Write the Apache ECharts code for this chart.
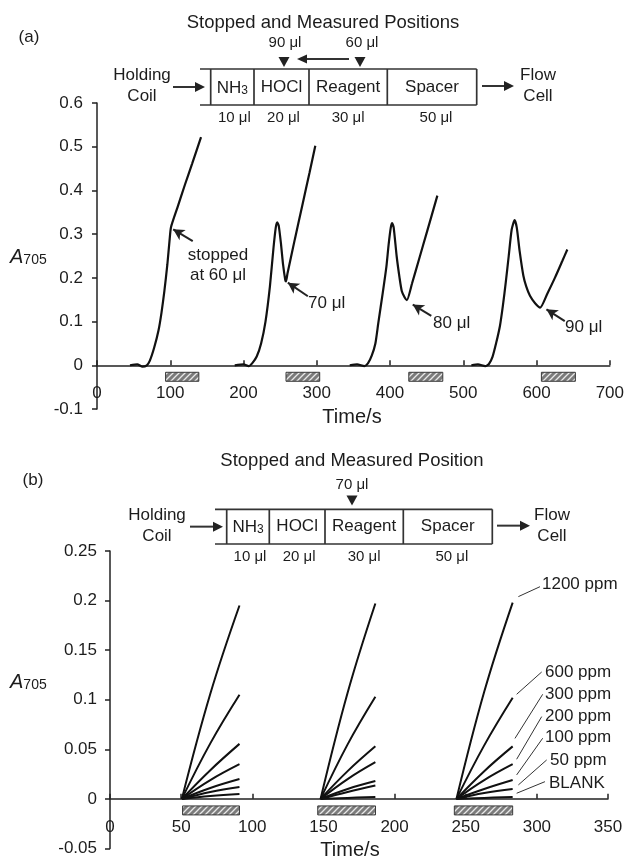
<!DOCTYPE html>
<html lang="en">
<head>
<meta charset="UTF-8">
<title>Stopped-flow traces</title>
<script src="https://cdn.jsdelivr.net/npm/echarts@6/dist/echarts.min.js"></script>
<style>
  html, body { margin: 0; padding: 0; background: #fff; }
  #main { width: 627px; height: 857px; }
</style>
</head>
<body>
<div id="main"></div>
<script type="text/javascript">
// ---- panel (a): absorbance traces, stopped at 60, 70, 80, 90 ul ----
var scan60 = [[45,0],[55,0.002],[62,-0.003],[68,0],[72,0.01],[78,0.04],[84,0.08],[88,0.12],[92,0.17],[96,0.23],[99,0.285],[101,0.316],[110,0.362],[120,0.413],[130,0.462],[142,0.522]];
var scan70 = [[188,0],[200,0.002],[207,-0.002],[212,0.005],[218,0.02],[224,0.05],[230,0.1],[236,0.18],[241,0.27],[244,0.315],[246,0.327],[248,0.32],[251,0.28],[254,0.23],[257,0.195],[258,0.192],[260,0.21],[270,0.288],[280,0.364],[290,0.44],[298,0.502]];
var scan80 = [[345,0],[355,0.002],[365,-0.002],[370,0.005],[375,0.022],[380,0.05],[384,0.097],[390,0.165],[395,0.225],[398,0.275],[401,0.315],[403,0.325],[405,0.315],[409,0.25],[413,0.2],[416,0.17],[420,0.155],[423,0.149],[430,0.187],[440,0.245],[450,0.303],[464.6,0.388]];
var scan90 = [[511,0],[520,0.002],[530,-0.002],[535,0.003],[540,0.02],[545,0.052],[550,0.09],[554,0.136],[558,0.19],[562,0.25],[566,0.31],[570,0.332],[573,0.315],[577,0.26],[582,0.205],[586,0.18],[591,0.159],[598,0.142],[605,0.132],[615,0.165],[625,0.2],[635,0.238],[642,0.265]];
var measureA = [[93.6,139],[258,304],[425.6,472],[606.6,653]];

// ---- panel (b): three repeat runs per concentration ----
var ppmLabels = ['1200 ppm','600 ppm','300 ppm','200 ppm','100 ppm','50 ppm','BLANK'];
var runStart = [50.5, 148, 243.5];
var runMid = [70.5, 167, 263];
var runEnd = [91, 186.5, 283];
var midValues = [
  [0.106, 0.056, 0.029, 0.019, 0.011, 0.007, 0.003],
  [0.107, 0.055, 0.028, 0.020, 0.010, 0.007, 0.001],
  [0.108, 0.054, 0.028, 0.019, 0.010, 0.006, 0.001]
];
var endValues = [
  [0.195, 0.105, 0.0555, 0.035, 0.020, 0.012, 0.005],
  [0.197, 0.103, 0.053, 0.037, 0.018, 0.0135, 0.002],
  [0.198, 0.102, 0.053, 0.035, 0.019, 0.010, 0.002]
];
var measureB = [[51,91],[146,186.6],[242,283]];

var FONT = '"Liberation Sans", Arial, sans-serif';
var INK = '#1c1c1c';

var myChart = echarts.init(document.getElementById('main'));

// hatched fill for measuring windows
var pc = document.createElement('canvas');
pc.width = 6; pc.height = 6;
var cx = pc.getContext('2d');
cx.fillStyle = '#7b7b7b';
cx.fillRect(0, 0, 6, 6);
cx.strokeStyle = '#e8e8e8';
cx.lineWidth = 1.3;
cx.beginPath();
cx.moveTo(0, 6); cx.lineTo(6, 0);
cx.moveTo(-3, 3); cx.lineTo(3, -3);
cx.moveTo(3, 9); cx.lineTo(9, 3);
cx.stroke();

function hatchSeries(idx, data) {
  return {
    type: 'custom', xAxisIndex: idx, yAxisIndex: idx, silent: true, clip: false,
    data: data,
    renderItem: function (params, api) {
      var s = api.coord([api.value(0), 0]);
      var e = api.coord([api.value(1), 0]);
      return {
        type: 'rect',
        shape: { x: s[0], y: s[1] + 7, width: e[0] - s[0], height: 9 },
        style: { fill: { image: pc, repeat: 'repeat' }, stroke: '#3a3a3a', lineWidth: 1 }
      };
    }
  };
}

function txt(x, y, text, opt) {
  opt = opt || {};
  return {
    type: 'text', x: x, y: y, silent: true,
    style: {
      text: text, fill: INK, fontFamily: FONT, fontSize: opt.size || 17,
      fontStyle: opt.italic ? 'italic' : 'normal',
      align: opt.align || 'center', verticalAlign: 'middle', lineHeight: opt.lh || 20,
      rich: opt.rich
    }
  };
}
function seg(x1, y1, x2, y2, w) {
  return { type: 'line', silent: true, shape: { x1: x1, y1: y1, x2: x2, y2: y2 }, style: { stroke: '#333', lineWidth: w || 1.7 } };
}
function arrowRight(x1, x2, y) {
  return [seg(x1, y, x2 - 8, y, 2),
    { type: 'polygon', silent: true, shape: { points: [[x2, y], [x2 - 10, y - 5], [x2 - 10, y + 5]] }, style: { fill: '#222' } }];
}
function arrowLeft(x1, x2, y) {
  return [seg(x1, y, x2 + 8, y, 1.8),
    { type: 'polygon', silent: true, shape: { points: [[x2, y], [x2 + 10, y - 4.5], [x2 + 10, y + 4.5]] }, style: { fill: '#222' } }];
}
function marker(x, y) {
  return { type: 'polygon', silent: true, shape: { points: [[x - 5.5, y], [x + 5.5, y], [x, y + 10]] }, style: { fill: '#222' } };
}

var subRich = {
  s: { fontSize: 12, fontFamily: FONT, fill: INK, verticalAlign: 'bottom', lineHeight: 12 },
  n: { fontSize: 17, fontFamily: FONT, fill: INK, verticalAlign: 'bottom', lineHeight: 17 },
  a: { fontSize: 20, fontFamily: FONT, fill: INK, fontStyle: 'italic', verticalAlign: 'bottom', lineHeight: 20 },
  t: { fontSize: 14, fontFamily: FONT, fill: INK, verticalAlign: 'bottom', lineHeight: 14 }
};

function scheme(o) {
  var els = [];
  var mid = (o.top + o.bot) / 2;
  els.push(seg(o.start, o.top, o.end, o.top), seg(o.start, o.bot, o.end, o.bot));
  [o.wall, o.d1, o.d2, o.d3, o.end].forEach(function (x) { els.push(seg(x, o.top, x, o.bot)); });
  els.push(txt((o.wall + o.d1) / 2, mid + 1, '{n|NH}{s|3}', { rich: subRich }));
  els.push(txt((o.d1 + o.d2) / 2, mid, 'HOCl'));
  els.push(txt((o.d2 + o.d3) / 2, mid, 'Reagent'));
  els.push(txt((o.d3 + o.end) / 2, mid, 'Spacer'));
  var vy = o.bot + 13;
  els.push(txt((o.wall + o.d1) / 2 + 2, vy, '10 μl', { size: 15 }));
  els.push(txt((o.d1 + o.d2) / 2 + 2, vy, '20 μl', { size: 15 }));
  els.push(txt((o.d2 + o.d3) / 2, vy, '30 μl', { size: 15 }));
  els.push(txt((o.d3 + o.end) / 2 + 4, vy, '50 μl', { size: 15 }));
  els.push(txt(o.holdX, mid - 1, 'Holding\nCoil', { lh: 21 }));
  els = els.concat(arrowRight(o.inA, o.inB, mid));
  els = els.concat(arrowRight(o.outA, o.outB, mid - 1));
  els.push(txt(o.flowX, mid - 1, 'Flow\nCell', { lh: 21 }));
  return els;
}

var graphics = [];
// panel (a) scheme
graphics.push(txt(29, 37, '(a)'));
graphics.push(txt(323, 23, 'Stopped and Measured Positions', { size: 18.5 }));
graphics = graphics.concat(scheme({ start: 200, wall: 210.7, d1: 254, d2: 309, d3: 387.3, end: 476.7, top: 69, bot: 105,
  holdX: 142, inA: 173, inB: 205, outA: 482, outB: 514, flowX: 538 }));
graphics.push(txt(285, 43, '90 μl', { size: 15 }), txt(362, 43, '60 μl', { size: 15 }));
graphics.push(marker(284, 57), marker(360, 57));
graphics = graphics.concat(arrowLeft(349, 297, 59));
// panel (a) annotations
graphics.push(txt(218, 255, 'stopped'), txt(218, 275, 'at 60 μl'));
graphics.push(txt(308, 303, '70 μl', { align: 'left' }));
graphics.push(txt(433, 323, '80 μl', { align: 'left' }));
graphics.push(txt(565, 327, '90 μl', { align: 'left' }));
graphics.push(txt(352, 417, 'Time/s', { size: 20 }));
graphics.push(txt(10, 257, '{a|A}{t|705}', { align: 'left', rich: subRich }));

// panel (b) scheme
graphics.push(txt(33, 480, '(b)'));
graphics.push(txt(352, 461, 'Stopped and Measured Position', { size: 18.5 }));
graphics = graphics.concat(scheme({ start: 215, wall: 226.7, d1: 269.3, d2: 325, d3: 403.3, end: 492.3, top: 509.3, bot: 544,
  holdX: 157, inA: 190, inB: 223, outA: 497, outB: 530, flowX: 552 }));
graphics.push(txt(352, 485, '70 μl', { size: 15 }));
graphics.push(marker(352, 495.5));
// panel (b) labels
var labelPos = [[542, 584.5], [545, 672], [545, 694.5], [545, 716], [545, 737], [550, 760], [549, 783]];
ppmLabels.forEach(function (l, i) { graphics.push(txt(labelPos[i][0], labelPos[i][1], l, { align: 'left' })); });
graphics.push(txt(350, 850, 'Time/s', { size: 20 }));
graphics.push(txt(10, 682, '{a|A}{t|705}', { align: 'left', rich: subRich }));

// leader lines / arrows in data coordinates
var arrowsA = [[[130.7, 0.284], [104, 0.311]], [[287.8, 0.158], [260.5, 0.189]], [[456.3, 0.113], [431, 0.139]], [[638.5, 0.101], [613.5, 0.128]]];
var leadersB = [[[287, 0.204], [302.2, 0.214]], [[285.8, 0.1055], [303.4, 0.128]], [[284.6, 0.061], [304.1, 0.1055]],
  [[285.8, 0.040], [303.4, 0.083]], [[285.8, 0.0242], [304.1, 0.0612]], [[287, 0.0141], [306.9, 0.0393]], [[285.8, 0.0057], [305.7, 0.0174]]];

var series = [];
[scan60, scan70, scan80, scan90].forEach(function (d, i) {
  var s = {
    type: 'line', xAxisIndex: 0, yAxisIndex: 0, data: d, showSymbol: false, smooth: 0.2,
    lineStyle: { color: '#111', width: 2.2 }, silent: true
  };
  if (i === 0) {
    s.markLine = {
      silent: true, symbol: ['none', 'arrow'], symbolSize: [9, 11],
      lineStyle: { color: '#222', width: 2, type: 'solid' }, label: { show: false },
      data: arrowsA.map(function (a) { return [{ coord: a[0] }, { coord: a[1] }]; })
    };
  }
  series.push(s);
});
series.push(hatchSeries(0, measureA));

for (var r = 0; r < 3; r++) {
  for (var c = 0; c < ppmLabels.length; c++) {
    var s = {
      type: 'line', xAxisIndex: 1, yAxisIndex: 1, showSymbol: false, smooth: 0.4, silent: true,
      data: [[runStart[r], 0], [runMid[r], midValues[r][c]], [runEnd[r], endValues[r][c]]],
      lineStyle: { color: '#111', width: 2 }
    };
    if (r === 0 && c === 0) {
      s.markLine = {
        silent: true, symbol: ['none', 'none'],
        lineStyle: { color: '#333', width: 1, type: 'solid' }, label: { show: false },
        data: leadersB.map(function (a) { return [{ coord: a[0] }, { coord: a[1] }]; })
      };
    }
    series.push(s);
  }
}
series.push(hatchSeries(1, measureB));

function fmt(v) { return String(Math.round(v * 100) / 100); }
var tickStyle = { inside: true, length: 5, lineStyle: { color: '#222', width: 1.5 } };

var option = {
  animation: false,
  grid: [
    { left: 97, top: 103, width: 513, height: 306 },
    { left: 110, top: 551, width: 498, height: 298 }
  ],
  xAxis: [
    { gridIndex: 0, type: 'value', min: 0, max: 700, interval: 100, splitLine: { show: false },
      offset: -306 / 7,
      axisLine: { onZero: false, lineStyle: { color: '#222', width: 1.5 } }, axisTick: tickStyle,
      axisLabel: { fontSize: 17, color: INK, fontFamily: FONT, margin: 20 } },
    { gridIndex: 1, type: 'value', min: 0, max: 350, interval: 50, splitLine: { show: false },
      offset: -298 / 6,
      axisLine: { onZero: false, lineStyle: { color: '#222', width: 1.5 } }, axisTick: tickStyle,
      axisLabel: { fontSize: 17, color: INK, fontFamily: FONT, margin: 20 } }
  ],
  yAxis: [
    { gridIndex: 0, type: 'value', min: -0.1, max: 0.6, interval: 0.1, splitLine: { show: false },
      axisLine: { show: true, onZero: false, lineStyle: { color: '#222', width: 1.5 } },
      axisTick: { show: true, length: 5, lineStyle: { color: '#222', width: 1.5 } },
      axisLabel: { fontSize: 17, color: INK, fontFamily: FONT, margin: 14, formatter: fmt } },
    { gridIndex: 1, type: 'value', min: -0.05, max: 0.25, interval: 0.05, splitLine: { show: false },
      axisLine: { show: true, onZero: false, lineStyle: { color: '#222', width: 1.5 } },
      axisTick: { show: true, length: 5, lineStyle: { color: '#222', width: 1.5 } },
      axisLabel: { fontSize: 17, color: INK, fontFamily: FONT, margin: 13, formatter: fmt } }
  ],
  graphic: graphics,
  series: series
};
myChart.setOption(option);
</script>
</body>
</html>
